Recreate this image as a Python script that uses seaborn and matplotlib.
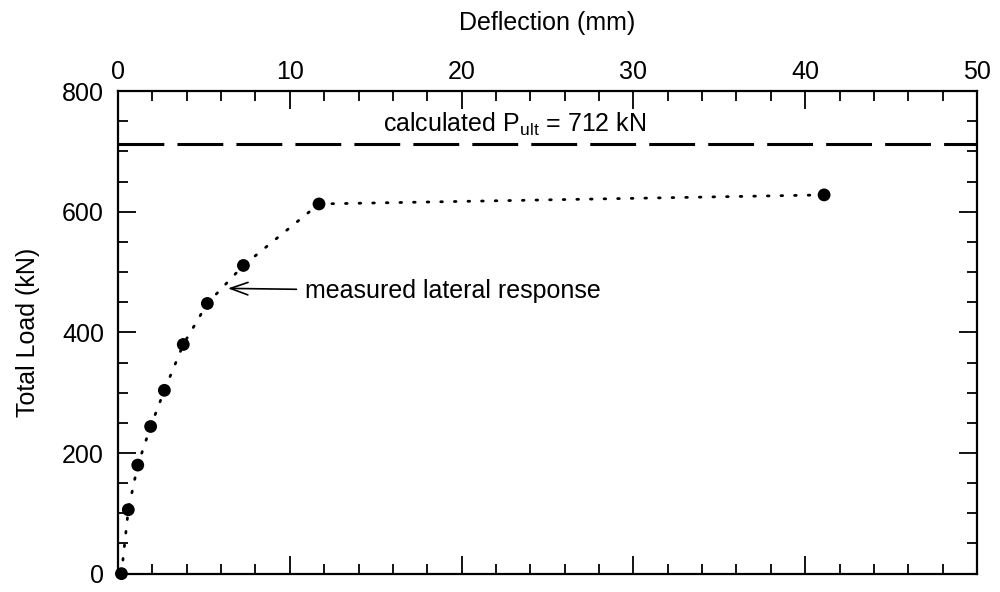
import matplotlib
matplotlib.use("Agg")
import matplotlib.pyplot as plt
from matplotlib.ticker import MultipleLocator
import pandas as pd
import seaborn as sns

# measured load-deflection points
deflection = [0.2, 0.6, 1.15, 1.9, 2.7, 3.8, 5.2, 7.3, 11.7, 41.1]
total_load = [0, 106, 180, 244, 304, 380, 448, 511, 613, 628]
p_ult = 712

df = pd.DataFrame({"Deflection": deflection, "Load": total_load})

sns.set_theme(style="ticks")
plt.rcParams["font.family"] = ["Liberation Sans", "DejaVu Sans"]
plt.rcParams["mathtext.fontset"] = "custom"
plt.rcParams["mathtext.rm"] = "Liberation Sans"
plt.rcParams["text.color"] = "black"
plt.rcParams["axes.labelcolor"] = "black"
plt.rcParams["xtick.labelcolor"] = "black"
plt.rcParams["ytick.labelcolor"] = "black"

fig, ax = plt.subplots(figsize=(10, 5.92), dpi=100)
fig.subplots_adjust(left=0.118, right=0.977, top=0.846, bottom=0.031)

# dotted connecting line + filled markers
sns.lineplot(data=df, x="Deflection", y="Load", ax=ax, color="black",
             linewidth=2.0, linestyle=(0, (0.6, 4.3)), dash_capstyle="round",
             sort=False)
sns.scatterplot(data=df, x="Deflection", y="Load", ax=ax, color="black",
                s=85, edgecolor="none", zorder=3, clip_on=False)

# calculated ultimate load
ax.axhline(p_ult, color="black", linewidth=2.2, linestyle=(0, (15, 4.3)))
ax.text(15.4, p_ult + 10, r"calculated P$_{\mathrm{ult}}$ = 712 kN",
        fontsize=18, va="bottom", ha="left")

ax.annotate("measured lateral response", xy=(6.4, 473), xytext=(10.9, 468),
            fontsize=18, va="center", ha="left",
            arrowprops=dict(arrowstyle="->,head_length=0.7,head_width=0.25",
                            color="black", lw=1.2, shrinkA=4, shrinkB=0))

ax.set_xlim(0, 50)
ax.set_ylim(0, 800)
ax.xaxis.set_major_locator(MultipleLocator(10))
ax.xaxis.set_minor_locator(MultipleLocator(2))
ax.yaxis.set_major_locator(MultipleLocator(200))
ax.yaxis.set_minor_locator(MultipleLocator(50))

ax.xaxis.tick_top()
ax.xaxis.set_label_position("top")
ax.tick_params(which="both", direction="in", top=True, bottom=True,
               left=True, right=True, labeltop=True, labelbottom=False,
               color="black", width=1.3)
ax.tick_params(which="major", length=13, labelsize=18)
ax.tick_params(axis="x", which="major", pad=5)
ax.tick_params(axis="y", which="major", pad=10)
ax.tick_params(which="minor", length=7)

for sp in ax.spines.values():
    sp.set_visible(True)
    sp.set_linewidth(1.6)
    sp.set_color("black")

ax.set_xlabel("Deflection (mm)", fontsize=18, labelpad=22)
ax.set_ylabel("Total Load (kN)", fontsize=18, labelpad=16)
ax.set_facecolor("white")

fig.savefig("out.png", dpi=100, facecolor="white")
